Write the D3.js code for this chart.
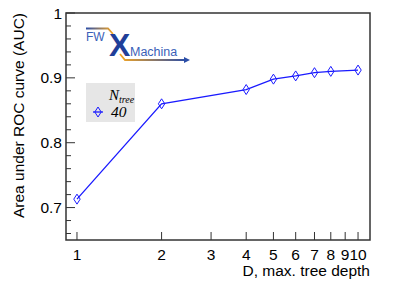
<!DOCTYPE html>
<html>
<head>
<meta charset="utf-8">
<script src="https://cdn.jsdelivr.net/npm/d3@7"></script>
<style>
  body { margin: 0; background: #fff; }
  svg { display: block; }
</style>
</head>
<body>
<svg id="chart" width="411" height="283"></svg>
<script>
const depths = [1, 2, 4, 5, 6, 7, 8, 10];
const aucValues = [0.713, 0.860, 0.882, 0.898, 0.903, 0.908, 0.910, 0.912];
const xTickValues = [1, 2, 3, 4, 5, 6, 7, 8, 9, 10];
const yMajorTicks = [0.7, 0.8, 0.9, 1];
const legendLabel = "40";

const svg = d3.select("#chart");
const frame = { left: 66, right: 370, top: 13, bottom: 240 };
const lineColor = "#1a1aff";
const font = "'Liberation Sans', Arial, Helvetica, sans-serif";
const serif = "'Liberation Serif', 'Times New Roman', serif";
const labelSize = 15.5;

const x = d3.scaleLog().domain([0.914, 11.03]).range([frame.left, frame.right]);
const y = d3.scaleLinear().domain([0.65, 1]).range([frame.bottom, frame.top]);

// y ticks
const yMinor = d3.range(0.66, 1.0001, 0.02).map((v) => +v.toFixed(2));
svg.append("g")
    .selectAll("line")
    .data(yMinor)
    .join("line")
    .attr("x1", frame.left)
    .attr("x2", (d) => frame.left + (yMajorTicks.some((m) => Math.abs(m - d) < 1e-6) ? 9 : 5))
    .attr("y1", (d) => y(d))
    .attr("y2", (d) => y(d))
    .attr("stroke", "#333")
    .attr("stroke-width", 1);

svg.append("g")
    .selectAll("text")
    .data(yMajorTicks)
    .join("text")
    .attr("x", frame.left - 4)
    .attr("y", (d) => y(d) + 5.5)
    .attr("text-anchor", "end")
    .attr("font-family", font)
    .attr("font-size", labelSize)
    .text((d) => d === 1 ? "1" : d.toFixed(1));

// x ticks
svg.append("g")
    .selectAll("line")
    .data(xTickValues)
    .join("line")
    .attr("x1", (d) => x(d))
    .attr("x2", (d) => x(d))
    .attr("y1", frame.bottom)
    .attr("y2", frame.bottom - 8)
    .attr("stroke", "#333")
    .attr("stroke-width", 1);

svg.append("g")
    .selectAll("text")
    .data(xTickValues)
    .join("text")
    .attr("x", (d) => x(d))
    .attr("y", 260)
    .attr("text-anchor", "middle")
    .attr("font-family", font)
    .attr("font-size", labelSize)
    .text((d) => d);

// frame
svg.append("rect")
    .attr("x", frame.left)
    .attr("y", frame.top)
    .attr("width", frame.right - frame.left)
    .attr("height", frame.bottom - frame.top)
    .attr("fill", "none")
    .attr("stroke", "#333")
    .attr("stroke-width", 1.5);

// axis titles
svg.append("text")
    .attr("x", frame.right)
    .attr("y", 276)
    .attr("text-anchor", "end")
    .attr("font-family", font)
    .attr("font-size", labelSize)
    .text("D, max. tree depth");

svg.append("text")
    .attr("transform", `translate(24, ${frame.top}) rotate(-90)`)
    .attr("text-anchor", "end")
    .attr("font-family", font)
    .attr("font-size", labelSize)
    .text("Area under ROC curve (AUC)");

// logo
const defs = svg.append("defs");
const gTop = defs.append("linearGradient").attr("id", "gTop");
gTop.append("stop").attr("offset", "0%").attr("stop-color", "#2b4ea8");
gTop.append("stop").attr("offset", "100%").attr("stop-color", "#f5a623");
const gBot = defs.append("linearGradient").attr("id", "gBot");
gBot.append("stop").attr("offset", "0%").attr("stop-color", "#f5a623");
gBot.append("stop").attr("offset", "100%").attr("stop-color", "#2b4ea8");

const logo = svg.append("g");
logo.append("path")
    .attr("d", "M86,28.5 L108,28.5 L113,34")
    .attr("fill", "none")
    .attr("stroke", "url(#gTop)")
    .attr("stroke-width", 1.8);
logo.append("path")
    .attr("d", "M120,54 L125,60 L186,60")
    .attr("fill", "none")
    .attr("stroke", "url(#gBot)")
    .attr("stroke-width", 1.8);
logo.append("path")
    .attr("d", "M184,57 L190,60 L184,63 Z")
    .attr("fill", "#2b4ea8");
logo.append("text")
    .attr("x", 86).attr("y", 41)
    .attr("font-family", font)
    .attr("font-size", 12)
    .attr("fill", "#3a5fb8")
    .text("FW");
logo.append("text")
    .attr("x", 109).attr("y", 56)
    .attr("font-family", font)
    .attr("font-size", 32)
    .attr("font-weight", "bold")
    .attr("fill", "#1f3f99")
    .text("X");
logo.append("text")
    .attr("x", 130).attr("y", 56)
    .attr("font-family", font)
    .attr("font-size", 12.5)
    .attr("fill", "#3a5fb8")
    .text("Machina");

// data line
const points = depths.map((d, i) => ({ d, v: aucValues[i] }));
svg.append("path")
    .datum(points)
    .attr("d", d3.line().x((p) => x(p.d)).y((p) => y(p.v)))
    .attr("fill", "none")
    .attr("stroke", lineColor)
    .attr("stroke-width", 1.3);

const diamond = "M0,-5 L3.2,0 L0,5 L-3.2,0 Z";
svg.append("g")
    .selectAll("path")
    .data(points)
    .join("path")
    .attr("transform", (p) => `translate(${x(p.d)},${y(p.v)})`)
    .attr("d", diamond)
    .attr("fill", "none")
    .attr("stroke", lineColor)
    .attr("stroke-width", 1);

// legend
const leg = svg.append("g");
leg.append("rect")
    .attr("x", 86).attr("y", 83)
    .attr("width", 49).attr("height", 39)
    .attr("fill", "#e6e6e6");
const nt = leg.append("text")
    .attr("x", 109).attr("y", 100)
    .attr("font-family", serif)
    .attr("font-style", "italic")
    .attr("font-size", 15);
nt.append("tspan").text("N");
nt.append("tspan").attr("dy", 3).attr("font-size", 10).text("tree");
leg.append("line")
    .attr("x1", 93).attr("x2", 103)
    .attr("y1", 112).attr("y2", 112)
    .attr("stroke", lineColor)
    .attr("stroke-width", 1.3);
leg.append("path")
    .attr("transform", "translate(98,112)")
    .attr("d", diamond)
    .attr("fill", "none")
    .attr("stroke", lineColor)
    .attr("stroke-width", 1);
leg.append("text")
    .attr("x", 111).attr("y", 117)
    .attr("font-family", serif)
    .attr("font-style", "italic")
    .attr("font-size", 15.5)
    .text(legendLabel);
</script>
</body>
</html>
